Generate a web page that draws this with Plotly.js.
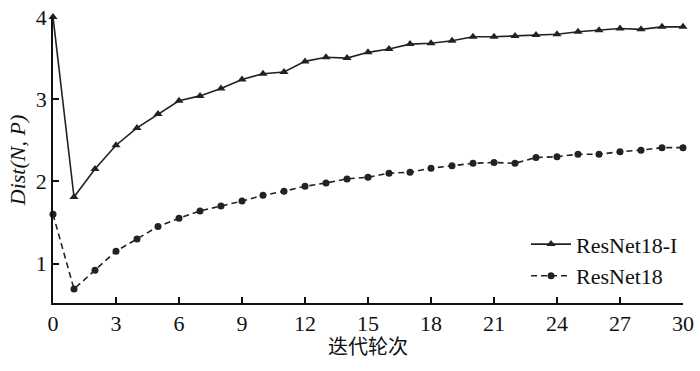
<!DOCTYPE html>
<html><head><meta charset="utf-8">
<script src="https://cdn.plot.ly/plotly-3.0.1.min.js"></script></head>
<body style="margin:0">
<div id="c" style="width:700px;height:371px"></div>
<script>
const epochs = [0,1,2,3,4,5,6,7,8,9,10,11,12,13,14,15,16,17,18,19,20,21,22,23,24,25,26,27,28,29,30];
const resnet18I = [4.00,1.81,2.15,2.44,2.65,2.82,2.98,3.04,3.13,3.24,3.31,3.33,3.46,3.51,3.50,3.57,3.61,3.67,3.68,3.71,3.76,3.76,3.77,3.78,3.79,3.82,3.84,3.86,3.85,3.88,3.88];
const resnet18 = [1.60,0.69,0.92,1.15,1.30,1.45,1.55,1.64,1.70,1.76,1.83,1.88,1.94,1.98,2.03,2.05,2.10,2.11,2.16,2.19,2.22,2.23,2.22,2.29,2.30,2.33,2.33,2.36,2.38,2.41,2.41];
const xTicks = [0,3,6,9,12,15,18,21,24,27,30];
const yTicks = [1,2,3,4];
const names = ["ResNet18-I","ResNet18"];

const lineColor = '#222';
const traces = [
  {x: epochs, y: resnet18I, name: names[0], mode: 'lines+markers',
   line: {color: lineColor, width: 1.6, dash: 'solid'},
   marker: {symbol: 'triangle-up', size: 8, color: lineColor}, cliponaxis: false},
  {x: epochs, y: resnet18, name: names[1], mode: 'lines+markers',
   line: {color: lineColor, width: 1.6, dash: '6px,4px'},
   marker: {symbol: 'circle', size: 7, color: lineColor}, cliponaxis: false}
];

Plotly.newPlot('c', traces, {
  width: 700, height: 371,
  font: {family: 'Liberation Serif', size: 22, color: '#111'},
  margin: {l: 53, r: 17, t: 17, b: 68},
  paper_bgcolor: '#fff', plot_bgcolor: '#fff',
  showlegend: true,
  legend: {x: 1, xanchor: 'right', y: 0.02, yanchor: 'bottom',
           bgcolor: 'rgba(0,0,0,0)', font: {family: 'Liberation Serif', size: 22},
           tracegroupgap: 0, itemwidth: 40},
  xaxis: {
    range: [0, 30], tickvals: xTicks, ticktext: xTicks.map(String),
    showline: true, linecolor: '#111', linewidth: 1.5,
    ticks: 'inside', ticklen: 6, tickwidth: 1.5, tickcolor: '#111',
    showgrid: false, zeroline: false,
    tickfont: {family: 'Liberation Serif', size: 22},
    title: {text: '迭代轮次', font: {family: 'Liberation Serif, Noto Sans CJK SC', size: 20}, standoff: 4}
  },
  yaxis: {
    range: [0.52, 4], tickvals: yTicks, ticktext: yTicks.map(String),
    showline: true, linecolor: '#111', linewidth: 1.5,
    ticks: 'inside', ticklen: 6, tickwidth: 1.5, tickcolor: '#111',
    showgrid: false, zeroline: false,
    tickfont: {family: 'Liberation Serif', size: 22},
    title: {text: 'Dist(N, P)', font: {family: 'Liberation Serif', size: 22, style: 'italic'}, standoff: 4}
  }
}, {displayModeBar: false});
</script></body></html>
